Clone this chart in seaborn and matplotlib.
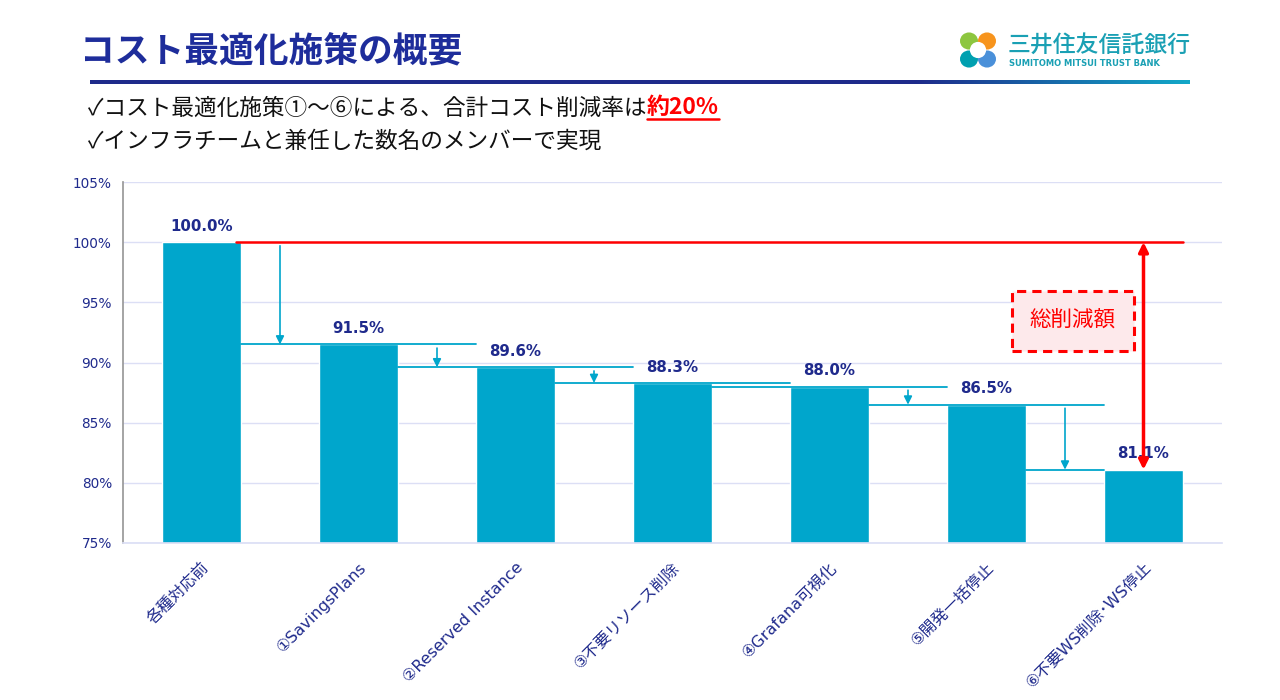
import numpy as np
import matplotlib
matplotlib.use("Agg")
import matplotlib.pyplot as plt
from matplotlib.colors import LinearSegmentedColormap
from matplotlib.patches import Rectangle, Ellipse
import seaborn as sns

# data
categories = ["各種対応前", "①SavingsPlans", "②Reserved Instance", "③不要リソース削除",
              "④Grafana可視化", "⑤開発一括停止", "⑥不要WS削除･WS停止"]
values = [100.0, 91.5, 89.6, 88.3, 88.0, 86.5, 81.1]
yticks = [75, 80, 85, 90, 95, 100, 105]

title = "コスト最適化施策の概要"
bullet1 = "✓コスト最適化施策①～⑥による、合計コスト削減率は"
bullet1_red = "約20%"
bullet2 = "✓インフラチームと兼任した数名のメンバーで実現"
box_label = "総削減額"

NAVY = "#1f2a8c"
BAR = "#00a6cc"
RED = "#ff0000"

sns.set_theme(style="white")
plt.rcParams["font.family"] = ["Noto Sans CJK JP", "DejaVu Sans"]

fig = plt.figure(figsize=(12.8, 7), dpi=100)
ax = fig.add_axes([123 / 1280, 1 - 543 / 700, 1099 / 1280, 361 / 700])

sns.barplot(x=categories, y=values, color=BAR, width=0.5, saturation=1, ax=ax, zorder=2)
ax.set_ylim(75, 105)
ax.set_xlim(-0.5, 6.5)
ax.set_yticks(yticks)
ax.set_yticklabels([f"{t}%" for t in yticks], color=NAVY, fontsize=9.8, family=["DejaVu Sans"])
ax.grid(axis="y", color="#dcdff5", linewidth=1, zorder=0)
ax.set_axisbelow(True)
ax.tick_params(axis="y", length=0, pad=8)
ax.tick_params(axis="x", length=0, pad=12)
ax.set_xticks(range(len(categories)))
ax.set_xticklabels(categories, rotation=45, ha="right", rotation_mode="anchor",
                   color=NAVY, fontsize=11.5, family=["DejaVu Sans", "Noto Sans CJK JP"])
ax.set_xlabel("")
for s in ["top", "right"]:
    ax.spines[s].set_visible(False)
ax.spines["left"].set_color("#999999")
ax.spines["bottom"].set_color("#dcdff5")

# value labels
for i, v in enumerate(values):
    ax.text(i, v + 0.7, f"{v:.1f}%", ha="center", va="bottom", color=NAVY,
            fontsize=10.8, fontweight="bold", family=["DejaVu Sans"], zorder=5)

# connector lines and arrows
n = len(values)
for k in range(1, n):
    x0 = k - 1 + 0.25
    x1 = k + 0.75 if k < n - 1 else k - 0.25
    ax.plot([x0, x1], [values[k], values[k]], color=BAR, lw=1.3, zorder=3)
    ax.annotate("", xy=(k - 0.5, values[k]), xytext=(k - 0.5, values[k - 1] - 0.3),
                arrowprops=dict(arrowstyle="-|>", color=BAR, lw=1.2,
                                mutation_scale=12, shrinkA=0, shrinkB=0), zorder=4)

# total reduction
ax.plot([0.22, 6.25], [values[0], values[0]], color=RED, lw=1.8, zorder=4)
ax.annotate("", xy=(6.0, values[-1]), xytext=(6.0, values[0]),
            arrowprops=dict(arrowstyle="<|-|>", color=RED, lw=2.5,
                            mutation_scale=14, shrinkA=0, shrinkB=0), zorder=6)
ax.add_patch(Rectangle((5.16, 90.96), 0.78, 4.98, facecolor="#fde9eb", edgecolor=RED,
                       lw=2.2, linestyle=(0, (3, 2)), zorder=5))
ax.text(5.55, 93.45, box_label, ha="center", va="center", color=RED, fontsize=15.5, zorder=6)

# header
fig.text(80 / 1280, 1 - 52 / 700, title, fontsize=25, fontweight="bold", color="#1e2d9b",
         ha="left", va="center")
lax = fig.add_axes([90 / 1280, 1 - 84 / 700, 1100 / 1280, 4 / 700])
grad = np.linspace(0, 1, 500)
grad = np.clip((grad - 0.75) / 0.25, 0, 1).reshape(1, -1)
cmap = LinearSegmentedColormap.from_list("hdr", ["#1e2a8a", "#12a8c8"])
lax.imshow(grad, aspect="auto", cmap=cmap)
lax.axis("off")

t1 = fig.text(88 / 1280, 1 - 108 / 700, bullet1, fontsize=16.3, color="#111111",
              ha="left", va="center")
t_red = fig.text(0, 0, bullet1_red, fontsize=16.5, color=RED, fontweight="bold",
                 ha="left", va="center")
fig.text(88 / 1280, 1 - 141 / 700, bullet2, fontsize=16.3, color="#111111",
         ha="left", va="center")
fig.canvas.draw()
r = fig.canvas.get_renderer()
bb = t1.get_window_extent(r)
t_red.set_position((bb.x1 / 1280, 1 - 108 / 700))
fig.canvas.draw()
bbr = t_red.get_window_extent(r)
fig.add_artist(plt.Line2D([bbr.x0 / 1280, bbr.x1 / 1280],
                          [(bbr.y0 + 1) / 700, (bbr.y0 + 1) / 700],
                          color=RED, lw=1.8, transform=fig.transFigure))

# logo
gax = fig.add_axes([960 / 1280, 1 - 68 / 700, 36 / 1280, 36 / 700])
gax.set_xlim(-1, 1)
gax.set_ylim(-1, 1)
gax.axis("off")
petals = [((-1, 1), "#8dc63f"), ((1, 1), "#f7941d"), ((-1, -1), "#00a0b0"), ((1, -1), "#4a90d9")]
for (sx, sy), c in petals:
    gax.add_patch(Ellipse((0.5 * sx, 0.5 * sy), 1.0, 0.95, facecolor=c, edgecolor="none"))
gax.add_patch(Ellipse((0, 0), 0.9, 0.9, facecolor="white", edgecolor="none"))
fig.text(1008 / 1280, 1 - 45 / 700, "三井住友信託銀行", fontsize=16.5, fontweight="medium",
         color="#1aa0b4", ha="left", va="center")
fig.text(1009 / 1280, 1 - 64 / 700, "SUMITOMO MITSUI TRUST BANK", fontsize=6, fontweight="bold",
         color="#1aa0b4", ha="left", va="center", family=["DejaVu Sans"])

fig.savefig("out.png", dpi=100)
